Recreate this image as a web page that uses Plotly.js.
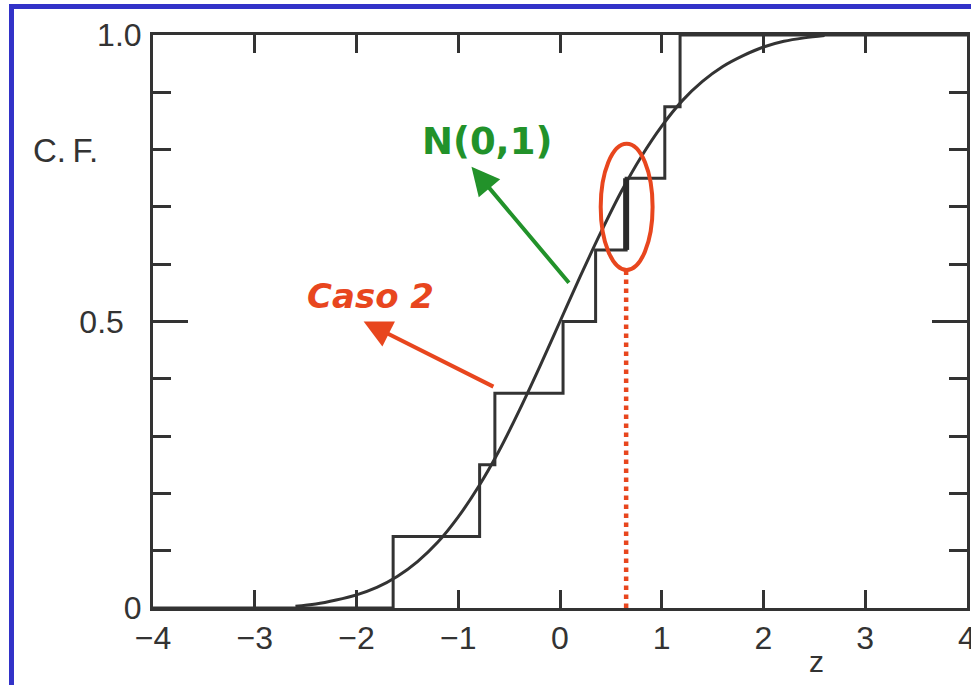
<!DOCTYPE html>
<html>
<head>
<meta charset="utf-8">
<script src="https://cdn.plot.ly/plotly-3.0.1.min.js"></script>
<style>
  html, body { margin: 0; padding: 0; background: #fff; }
  #chart { width: 971px; height: 685px; }
  /* blue frame round the scanned figure */
  #frame { position: absolute; left: 9px; top: 4px; width: 980px; height: 677px;
           border-left: 5px solid #3232c8; border-top: 5px solid #3232c8;
           border-bottom: 2px solid #5a5ad8; pointer-events: none; }
</style>
</head>
<body>
<div id="chart"></div>
<div id="frame"></div>
<script>
// ── Data ────────────────────────────────────────────────────────────────────
// empirical C.F. (8 samples, "Caso 2")
const sampleZ  = [-1.64, -0.79, -0.64, 0.03, 0.35, 0.65, 1.03, 1.18];
const sampleCF = [0.125, 0.25, 0.375, 0.5, 0.625, 0.75, 0.875, 1.0];
// N(0,1) curve
const normZ  = [-2.6, -2.4, -2.2, -2.0, -1.8, -1.6, -1.4, -1.2, -1.0, -0.8, -0.6, -0.4, -0.2,
                0.0, 0.2, 0.4, 0.6, 0.8, 1.0, 1.2, 1.4, 1.6, 1.8, 2.0, 2.2, 2.4, 2.6];
const normCF = [0.003, 0.007, 0.014, 0.023, 0.036, 0.055, 0.081, 0.115, 0.159, 0.212, 0.274, 0.345, 0.421,
                0.5, 0.579, 0.655, 0.726, 0.788, 0.841, 0.885, 0.919, 0.945, 0.964, 0.979, 0.989, 0.995, 0.999];
const xTicks = [-4, -3, -2, -1, 0, 1, 2, 3, 4];
const yTicks = [0, 0.5, 1];
const yTickText = ["0", "0.5\u00a0\u00a0", "1.0"];
const hiIdx = 5;   // the step circled in red

const INK = "#333333", RED = "#e8461e", GREEN = "#22922a";

// step trace: start at the left edge at 0, end at the right edge at 1
const stepX = [-4].concat(sampleZ, [4]);
const stepY = [0].concat(sampleCF, [1]);
const zHi = sampleZ[hiIdx];

const traces = [
  { x: normZ, y: normCF, mode: "lines", line: { color: INK, width: 3, shape: "spline" },
    hoverinfo: "skip" },
  { x: stepX, y: stepY, mode: "lines", line: { color: INK, width: 3, shape: "hv" },
    hoverinfo: "skip" },
  { x: [zHi, zHi], y: [sampleCF[hiIdx - 1], sampleCF[hiIdx]], mode: "lines",
    line: { color: "#2a2a2a", width: 6 }, hoverinfo: "skip" },
  { x: [zHi, zHi], y: [0, 0.59], mode: "lines",
    line: { color: RED, width: 4.5, dash: "dot" }, hoverinfo: "skip" },
];

const tickFont = { family: "Liberation Sans, Arial, sans-serif", size: 32, color: INK };

const layout = {
  width: 971, height: 685,
  margin: { l: 153, r: 4, t: 35, b: 77 },
  paper_bgcolor: "#fff", plot_bgcolor: "#fff",
  showlegend: false,
  xaxis: {
    range: [-4, 4], tickvals: xTicks, ticks: "inside", ticklen: 18, tickwidth: 3,
    tickcolor: INK, showline: true, linewidth: 3, linecolor: INK, mirror: "allticks",
    showgrid: false, zeroline: false, tickfont: tickFont, ticklabelstandoff: 0,
    ticklabeloverflow: "allow",
  },
  // second axis only to draw the long tick at z = 0
  xaxis2: {
    overlaying: "x", matches: "x", anchor: "y", side: "bottom",
    tickvals: [0], ticks: "inside", ticklen: 32, tickwidth: 3, tickcolor: INK,
    mirror: "allticks", showline: false, showticklabels: false, showgrid: false, zeroline: false,
  },
  yaxis: {
    range: [0, 1], tickvals: yTicks, ticktext: yTickText, ticks: "inside", ticklen: 35,
    tickwidth: 3, tickcolor: INK, showline: true, linewidth: 3, linecolor: INK,
    mirror: "allticks", showgrid: false, zeroline: false, tickfont: tickFont,
    ticklabelstandoff: 2,
    minor: { dtick: 0.1, ticks: "inside", ticklen: 18, tickwidth: 3, tickcolor: INK, showgrid: false },
  },
  shapes: [
    { type: "circle", xref: "x", yref: "y", x0: zHi - 0.25, x1: zHi + 0.26, y0: 0.59, y1: 0.81,
      line: { color: RED, width: 4 } },
  ],
  annotations: [
    { text: "C.\u2009F.", xref: "paper", yref: "paper", x: -0.15, y: 0.835, showarrow: false,
      font: { family: "Liberation Sans, Arial, sans-serif", size: 33, color: INK } },
    { text: "z", xref: "x", yref: "paper", x: 2.52, y: -0.125, showarrow: false,
      font: { family: "Liberation Sans, Arial, sans-serif", size: 30, color: INK } },
    { text: "<b>N(0,1)</b>", x: -0.72, y: 0.815, showarrow: false,
      font: { family: "DejaVu Sans, sans-serif", size: 37, color: GREEN } },
    { text: "<b><i>Caso 2</i></b>", x: -1.86, y: 0.545, showarrow: false,
      font: { family: "DejaVu Sans, sans-serif", size: 34, color: RED } },
    // arrows: head at (x,y), tail at (ax,ay)
    { text: "", x: -0.87, y: 0.77, ax: 0.1, ay: 0.565, axref: "x", ayref: "y",
      showarrow: true, arrowhead: 2, arrowsize: 1.4, arrowwidth: 4, arrowcolor: GREEN },
    { text: "", x: -1.93, y: 0.5, ax: -0.64, ay: 0.385, axref: "x", ayref: "y",
      showarrow: true, arrowhead: 2, arrowsize: 1.4, arrowwidth: 4, arrowcolor: RED },
  ],
};

Plotly.newPlot("chart", traces, layout, { staticPlot: true, displayModeBar: false });
</script>
</body>
</html>
